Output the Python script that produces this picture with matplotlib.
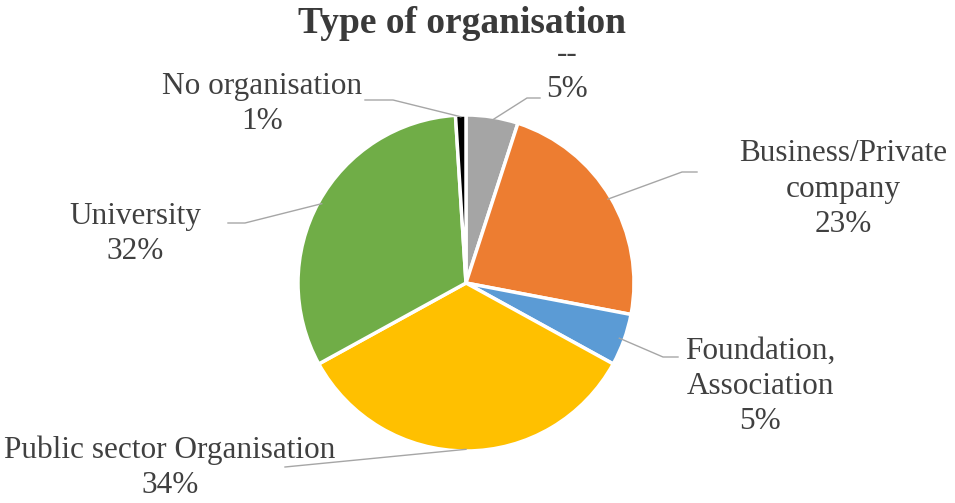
import matplotlib
matplotlib.use("Agg")
import matplotlib.pyplot as plt
import numpy as np

categories = ["--", "Business/Private\ncompany", "Foundation,\nAssociation",
              "Public sector Organisation", "University", "No organisation"]
values = [5, 23, 5, 34, 32, 1]
colors = ["#A5A5A5", "#ED7D31", "#5B9BD5", "#FFC000", "#70AD47", "#000000"]

W, H = 955, 503
fig = plt.figure(figsize=(W / 100, H / 100), dpi=100)
ax = fig.add_axes([0, 0, 1, 1])
ax.set_xlim(0, W)
ax.set_ylim(0, H)
ax.set_aspect("equal")
ax.axis("off")

cx, cy, R = 466, H - 283, 168
wedges, _ = ax.pie(values, colors=colors, startangle=90, counterclock=False,
                   center=(cx, cy), radius=R,
                   wedgeprops=dict(edgecolor="white", linewidth=2.5))
ax.set_xlim(0, W)
ax.set_ylim(0, H)

serif = ["Liberation Serif", "DejaVu Serif"]
tcol = "#404040"
fs = 22.5

fig.text(0.484, 1 - 24 / H, "Type of organisation", ha="center", va="center",
         fontsize=27, fontweight="bold", family=serif, color="#3A3A3A")

# label layout: (text center x, text center y in image px, elbow start px, elbow end px, radial fraction)
layout = [
    (567, 72, (540, 98), (527, 98), 0.98),
    (843, 189, (697, 172), (682, 172), 0.98),
    (760, 386, (678, 357), (663, 357), 0.97),
    (170, 468, (285, 467), (285, 467), 0.99),
    (135, 234, (228, 223), (245, 223), 0.98),
    (262, 104, (365, 100), (393, 100), 0.99),
]

for w, cat, v, (tx, ty, p1, p2, frac) in zip(wedges, categories, values, layout):
    ax.text(tx, H - ty, f"{cat}\n{v}%", ha="center", va="center", fontsize=fs,
            family=serif, color=tcol, linespacing=1.28)
    th = np.deg2rad((w.theta1 + w.theta2) / 2)
    ex, ey = cx + frac * R * np.cos(th), cy + frac * R * np.sin(th)
    ax.plot([p1[0], p2[0], ex], [H - p1[1], H - p2[1], ey], color="#A6A6A6", lw=1)

fig.savefig("out.png", dpi=100, facecolor="white")
